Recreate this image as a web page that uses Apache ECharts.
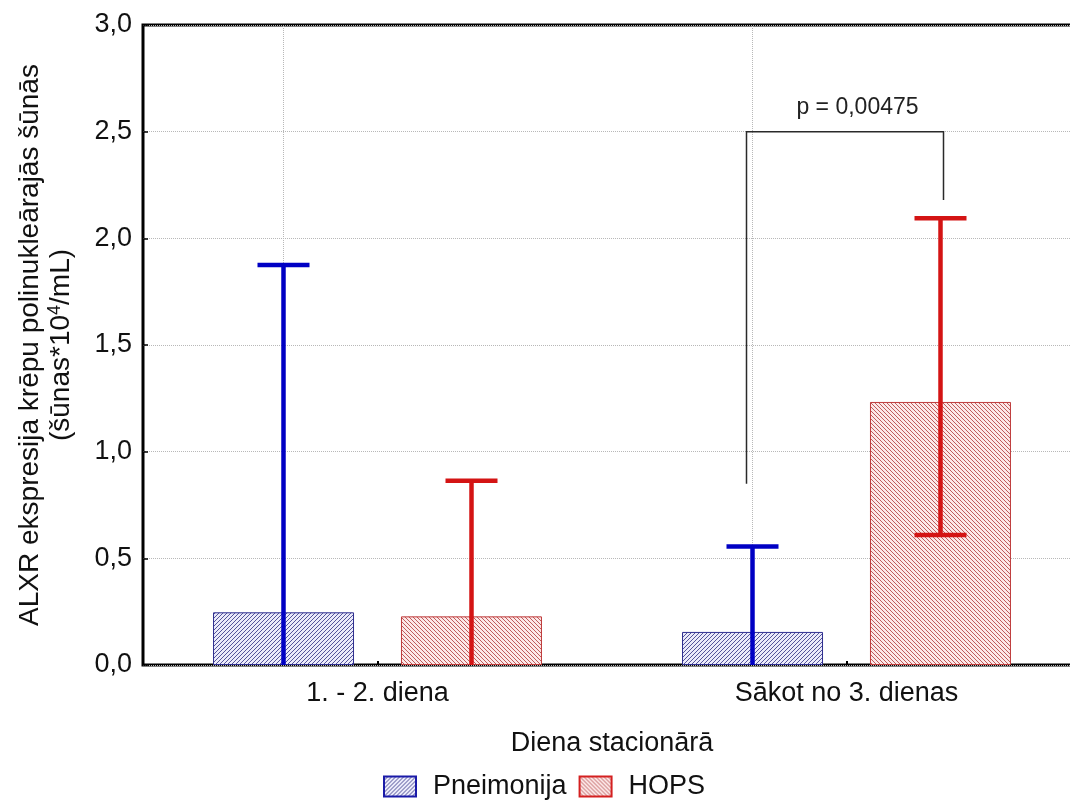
<!DOCTYPE html>
<html>
<head>
<meta charset="utf-8">
<script src="https://cdn.jsdelivr.net/npm/echarts@6/dist/echarts.min.js"></script>
<style>html,body{margin:0;padding:0;background:#fff;overflow:hidden}#c{width:1110px;height:805px}</style>
</head>
<body>
<div id="c"></div>
<script>
// ---- data ----
const categories = ['1. - 2. diena', 'Sākot no 3. dienas'];
const seriesNames = ['Pneimonija', 'HOPS'];
const pneimMean  = [0.247, 0.155];
const pneimUpper = [1.875, 0.555];
const pneimLower = [null, null];      // below axis (clipped)
const hopsMean   = [0.228, 1.233];
const hopsUpper  = [0.864, 2.094];
const hopsLower  = [null, 0.609];
const yTickLabels = ['0,0', '0,5', '1,0', '1,5', '2,0', '2,5', '3,0'];
const pValueText = 'p = 0,00475';
const bracketCategory = 1;
const bracketLeftBottom = 0.85;
const bracketTop = 2.5;
const bracketRightBottom = 2.18;

// ---- styling ----
const FONT = '"Liberation Sans", Arial, sans-serif';
const BAR_W = 141, BAR_GAP = 47;
const OFFSET = (BAR_W + BAR_GAP) / 2;

function hatch(dir, bg, color) {
  const s = 4;
  const c = document.createElement('canvas');
  c.width = s; c.height = s;
  const g = c.getContext('2d');
  g.fillStyle = bg;
  g.fillRect(0, 0, s, s);
  g.strokeStyle = color;
  g.lineWidth = 1;
  g.beginPath();
  if (dir > 0) {
    g.moveTo(-1, s + 1); g.lineTo(s + 1, -1);
    g.moveTo(-1, 1); g.lineTo(1, -1);
    g.moveTo(s - 1, s + 1); g.lineTo(s + 1, s - 1);
  } else {
    g.moveTo(-1, -1); g.lineTo(s + 1, s + 1);
    g.moveTo(s - 1, -1); g.lineTo(s + 1, 1);
    g.moveTo(-1, s - 1); g.lineTo(1, s + 1);
  }
  g.stroke();
  return c;
}
const bluePattern = { image: hatch(1, '#eaeafa', '#54549a'), repeat: 'repeat' };
const redPattern = { image: hatch(-1, '#fce8e8', '#bf5c5c'), repeat: 'repeat' };

function errSeries(name, upper, lower, side, color) {
  const data = upper.map((u, i) => [i, u, lower[i] == null ? 0 : lower[i], lower[i] == null ? 0 : 1]);
  return {
    type: 'custom', name: name, z: 5, silent: true,
    data: data,
    renderItem: function (params, api) {
      const cat = api.value(0);
      const pHi = api.coord([cat, api.value(1)]);
      const pLo = api.coord([cat, api.value(2)]);
      const x = pHi[0] + side * OFFSET;
      const hw = 26;
      const st = { stroke: color, lineWidth: 4.5 };
      const children = [
        { type: 'line', shape: { x1: x, y1: pHi[1], x2: x, y2: pLo[1] }, style: st },
        { type: 'line', shape: { x1: x - hw, y1: pHi[1], x2: x + hw, y2: pHi[1] }, style: st }
      ];
      if (api.value(3) === 1) {
        children.push({ type: 'line', shape: { x1: x - hw, y1: pLo[1], x2: x + hw, y2: pLo[1] }, style: st });
      }
      return { type: 'group', children: children };
    }
  };
}

const chart = echarts.init(document.getElementById('c'), null, { renderer: 'canvas' });
chart.setOption({
  animation: false,
  backgroundColor: '#fff',
  textStyle: { fontFamily: FONT },
  grid: { left: 143, top: 25, width: 938, height: 640, show: true, borderWidth: 3, borderColor: '#000', backgroundColor: 'transparent' },
  legend: {
    left: 383, top: 773, padding: 0, itemWidth: 32, itemHeight: 20, itemGap: 12,
    textStyle: { fontSize: 27, color: '#111', fontFamily: FONT, padding: [0, 0, 0, 12] },
    data: [
      { name: seriesNames[0], icon: 'rect', itemStyle: { borderColor: '#1a1aa8', borderWidth: 2 } },
      { name: seriesNames[1], icon: 'rect', itemStyle: { borderColor: '#d42020', borderWidth: 2 } }
    ]
  },
  xAxis: {
    type: 'category', data: categories,
    axisLine: { show: false },
    axisTick: { show: true, inside: true, alignWithLabel: true, length: 4, lineStyle: { color: '#000', width: 2 } },
    axisLabel: { fontSize: 27, color: '#111', margin: 15, fontFamily: FONT },
    splitLine: { show: false },
    name: 'Diena stacionārā', nameLocation: 'middle', nameGap: 65,
    nameTextStyle: { fontSize: 27, color: '#111', fontFamily: FONT }
  },
  yAxis: {
    type: 'value', min: 0, max: 3, interval: 0.5,
    axisLine: { show: false },
    axisTick: { show: true, inside: true, length: 5, lineStyle: { color: '#000', width: 1.5 } },
    axisLabel: { fontSize: 27, color: '#111', margin: 11, fontFamily: FONT,
      formatter: v => yTickLabels[Math.round(v / 0.5)] },
    splitLine: { show: true, lineStyle: { color: '#b8b8b8', type: 'dotted', width: 1 } },
    name: '{a|ALXR ekspresija krēpu polinukleārajās šūnās}\n{a|(šūnas*10}{s|4}{a|/mL)}',
    nameLocation: 'middle', nameGap: 66, nameRotate: 90,
    nameTextStyle: {
      color: '#111', fontFamily: FONT,
      rich: {
        a: { fontSize: 28, lineHeight: 31, color: '#111', fontFamily: FONT },
        s: { fontSize: 18, lineHeight: 31, verticalAlign: 'top', color: '#111', fontFamily: FONT, padding: [0, 0, 8, 0] }
      }
    }
  },
  series: [
    {
      type: 'bar', name: seriesNames[0], data: pneimMean, barWidth: BAR_W, barGap: (BAR_GAP / BAR_W * 100).toFixed(1) + '%',
      itemStyle: { color: bluePattern, borderColor: '#2e2e90', borderWidth: 1 },
      markLine: {
        silent: true, symbol: 'none', animation: false,
        label: { show: false },
        lineStyle: { color: '#b8b8b8', type: 'dotted', width: 1 },
        data: categories.map((c, i) => ({ xAxis: i }))
      }
    },
    {
      type: 'bar', name: seriesNames[1], data: hopsMean, barWidth: BAR_W,
      itemStyle: { color: redPattern, borderColor: '#bf3b3b', borderWidth: 1 }
    },
    errSeries('errPneim', pneimUpper, pneimLower, -1, '#0000c4'),
    errSeries('errHops', hopsUpper, hopsLower, 1, '#d41414'),
    {
      type: 'custom', name: 'bracket', z: 6, silent: true,
      data: [[bracketCategory, bracketLeftBottom, bracketTop, bracketRightBottom]],
      renderItem: function (params, api) {
        const cat = api.value(0);
        const pL = api.coord([cat, api.value(1)]);
        const pT = api.coord([cat, api.value(2)]);
        const pR = api.coord([cat, api.value(3)]);
        const xl = pT[0] - 100, xr = pT[0] + 97;
        const st = { stroke: '#2a2a2a', lineWidth: 1.5, fill: null };
        return {
          type: 'group', children: [
            { type: 'polyline', shape: { points: [[xl, pL[1]], [xl, pT[1]], [xr, pT[1]], [xr, pR[1]]] }, style: st },
            { type: 'text', style: { text: pValueText, x: pT[0] + 11, y: pT[1] - 24, align: 'center', verticalAlign: 'middle',
              fontSize: 23, fontFamily: FONT, fill: '#222' } }
          ]
        };
      }
    }
  ]
});
</script>
</body>
</html>
